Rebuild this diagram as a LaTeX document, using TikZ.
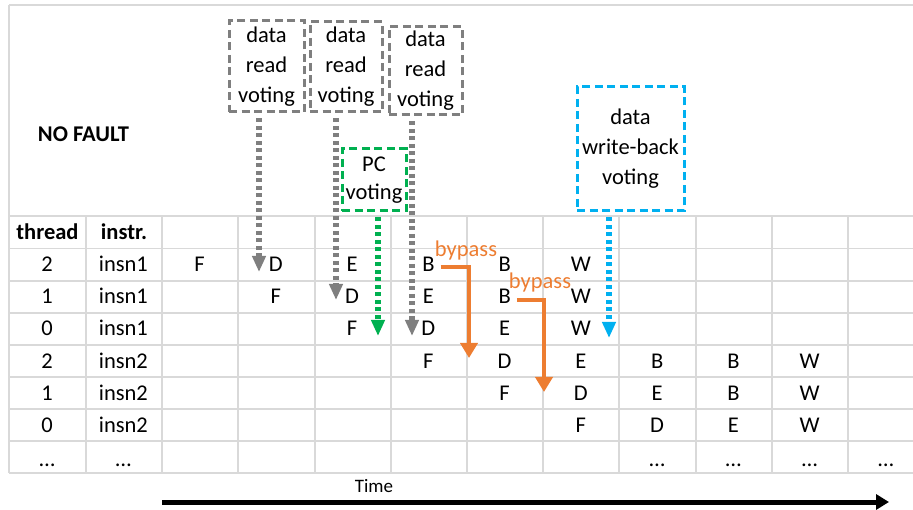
\documentclass[tikz,border=0pt]{standalone}
\usepackage{fontspec}
\setmainfont{Carlito}
\usetikzlibrary{arrows.meta}
\definecolor{gridc}{HTML}{D9D9D9}
\definecolor{vgray}{HTML}{7F7F7F}
\definecolor{vgreen}{HTML}{00B050}
\definecolor{vblue}{HTML}{00B0F0}
\definecolor{vorange}{HTML}{ED7D31}
\tikzset{
  gridline/.style={gridc, line width=1.2pt},
  cell/.style={anchor=base, inner sep=1pt},
  votebox/.style={line width=3pt, dash pattern=on 8pt off 4.5pt, align=center, inner sep=0pt, text=black,
    font=\fontsize{22.5}{30}\selectfont},
  votearrow/.style={line width=5.5pt, dash pattern=on 4pt off 3.5pt, shorten <=5pt,
    -{Triangle[width=13pt,length=16pt]}},
  bypassarrow/.style={vorange, line width=4pt, -{Triangle[width=17pt,length=15pt]}},
  bypasslabel/.style={anchor=base, text=vorange, inner sep=0pt},
}
\begin{document}
\begin{tikzpicture}[x=1pt, y=-1pt, font=\fontsize{22.5}{27}\selectfont]
\useasboundingbox (0,0) rectangle (913,510);
% grid
\draw[gridline] (9,5) -- (913,5);
\draw[gridline] (9,5) -- (9,473);
\foreach \y in {216,248.5,281,313,345,377,409,441,473}
  \draw[gridline] (9,\y) -- (913,\y);
\foreach \x in {86,162,238,315,391,467,543,619,696,772,848}
  \draw[gridline] (\x,216) -- (\x,473);
% header
\node[cell, font=\fontsize{22.5}{27}\selectfont\bfseries] (n-0-0) at (47.5,239.5) {thread};
\node[cell, font=\fontsize{22.5}{27}\selectfont\bfseries] (n-0-1) at (124,239.5) {instr.};
% cells
\foreach \r/\c/\t in {
  1/0/2,1/1/insn1,1/2/F,1/3/D,1/4/E,1/5/B,1/6/B,1/7/W,
  2/0/1,2/1/insn1,2/3/F,2/4/D,2/5/E,2/6/B,2/7/W,
  3/0/0,3/1/insn1,3/4/F,3/5/D,3/6/E,3/7/W,
  4/0/2,4/1/insn2,4/5/F,4/6/D,4/7/E,4/8/B,4/9/B,4/10/W,
  5/0/1,5/1/insn2,5/6/F,5/7/D,5/8/E,5/9/B,5/10/W,
  6/0/0,6/1/insn2,6/7/F,6/8/D,6/9/E,6/10/W}
  \node[cell] (n-\r-\c) at ({9+76.25*(\c+0.5)}, {216+32.15*\r+16+7.5}) {\t};
\foreach \c in {0,1,8,9,10,11}
  \node[cell] (n-7-\c) at ({9+76.25*(\c+0.5)}, 466) {…};
% title
\node[anchor=base, font=\fontsize{22.5}{27}\selectfont\bfseries, inner sep=0pt] (title) at (83.5,142) {NO FAULT};
% voting boxes
\node[votebox, draw=vgray, minimum width=75pt, minimum height=91pt] (v1) at (266.5,66.5) {data\\read\\voting};
\node[votebox, draw=vgray, minimum width=72pt, minimum height=90pt] (v2) at (346,67) {data\\read\\voting};
\node[votebox, draw=vgray, minimum width=73pt, minimum height=88pt] (v3) at (425.5,71) {data\\read\\voting};
\node[votebox, draw=vgreen, minimum width=64pt, minimum height=62pt, font=\fontsize{22.5}{28}\selectfont] (pc) at (374,180) {PC\\voting};
\node[votebox, draw=vblue, minimum width=107pt, minimum height=124pt] (wb) at (630.5,149) {data\\write-back\\voting};
% arrow tips
\coordinate (t1) at (259,272);
\coordinate (t2) at (336,300);
\coordinate (t3) at (412,336);
\coordinate (tg) at (378,336);
\coordinate (tb) at (609,338);
\draw[votearrow, vgray] (v1.south -| t1) -- (t1);
\draw[votearrow, vgray] (v2.south -| t2) -- (t2);
\draw[votearrow, vgray] (v3.south -| t3) -- (t3);
\draw[votearrow, vgreen] (pc.south -| tg) -- (tg);
\draw[votearrow, vblue] (wb.south -| tb) -- (tb);
% bypass
\coordinate (o1) at (469,358);
\coordinate (o2) at (544,392);
\draw[bypassarrow] ([shift={(5,3)}]n-1-5.east) -| (o1);
\draw[bypassarrow] ([shift={(5,3)}]n-2-6.east) -| (o2);
\node[bypasslabel] (bl1) at (466,257) {bypass};
\node[bypasslabel] (bl2) at (540,289) {bypass};
% time axis
\node[anchor=base, inner sep=0pt, font=\fontsize{19}{22}\selectfont] (time) at (374,492) {Time};
\coordinate (ts) at (162,502);
\coordinate (te) at (889,502);
\draw[line width=5pt, -{Triangle[width=15pt,length=13pt]}] (ts) -- (te);
\end{tikzpicture}
\end{document}
